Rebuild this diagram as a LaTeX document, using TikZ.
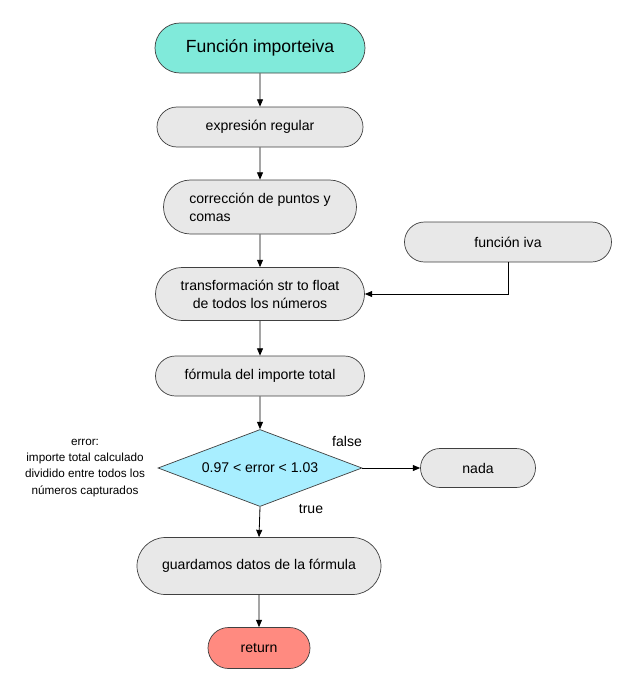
\documentclass[tikz,border=0pt]{standalone}
\usepackage{fontspec}
\setmainfont{Liberation Sans}
\usetikzlibrary{shapes.misc,shapes.geometric,arrows.meta}

\definecolor{startcol}{HTML}{80EADA}
\definecolor{boxcol}{HTML}{E8E8E8}
\definecolor{diacol}{HTML}{A8EEFF}
\definecolor{endcol}{HTML}{FF8A80}
\definecolor{linecol}{HTML}{404040}

\begin{document}
\begin{tikzpicture}[x=0.03cm, y=-0.03cm,
every node/.style={align=center, font=\fontsize{12pt}{15.5pt}\selectfont},
box/.style={rounded rectangle, draw=linecol, fill=boxcol, line width=0.6pt, inner sep=0pt, minimum height=1.2cm},
decision/.style={diamond, draw=linecol, fill=diacol, line width=0.6pt, inner sep=0pt, aspect=2.65},
arrow/.style={-{Triangle[length=2.2mm,width=1.8mm]}, black, line width=0.7pt}]
\useasboundingbox (0,0) rectangle (637,698);
%================================================================
%	Nodes
\node[box, fill=startcol, minimum width=6.3cm, minimum height=1.5cm,
      font=\fontsize{15pt}{18pt}\selectfont] (inicio) at (260,48) {Función importeiva};
\node[box, minimum width=6.18cm] (expr) at (260,127) {expresión regular};
\node[box, minimum width=5.79cm, minimum height=1.62cm, align=left] (correc) at (260,207) {corrección de puntos y\\comas};
\node[box, minimum width=6.21cm] (iva) at (508,242) {función iva};
\node[box, minimum width=6.27cm, minimum height=1.59cm] (transf) at (260,294) {transformación str to float\\de todos los números};
\node[box, minimum width=6.27cm] (formula) at (260,376) {fórmula del importe total};
%----------------------------------------------------------------
\node[decision, minimum width=6.12cm, minimum height=2.31cm] (cond) at (260,468) {0.97 < error < 1.03};
\node[box, minimum width=3.45cm, minimum height=1.17cm] (nada) at (478,468) {nada};
\node[box, minimum width=7.32cm, minimum height=1.71cm] (guardar) at (259,566) {guardamos datos de la fórmula};
\node[box, fill=endcol, minimum width=3.06cm, minimum height=1.23cm] (fin) at (259,648) {return};

%================================================================
%	Lines
\draw[arrow] (inicio) -- (expr);
\draw[arrow] (expr) -- (correc);
\draw[arrow] (correc) -- (transf);
\draw[arrow] (transf) -- (formula);
\draw[arrow] (formula) -- (cond);
\draw[arrow] (iva.south) |- (transf.east);
%----------------------------------------------------------------
\draw[arrow] (cond.east) -- (nada.west);
\draw[arrow] (cond.south) -- (guardar.north);
\draw[arrow] (guardar) -- (fin);

%================================================================
%	Labels
\node (lfalse) at (347,441) {false};
\node (ltrue) at (311,509) {true};
\node[font=\fontsize{10pt}{13.7pt}\selectfont] (nota) at (85,468) {error:\\importe total calculado\\dividido entre todos los\\números capturados};
%================================================================
\end{tikzpicture}
\end{document}
